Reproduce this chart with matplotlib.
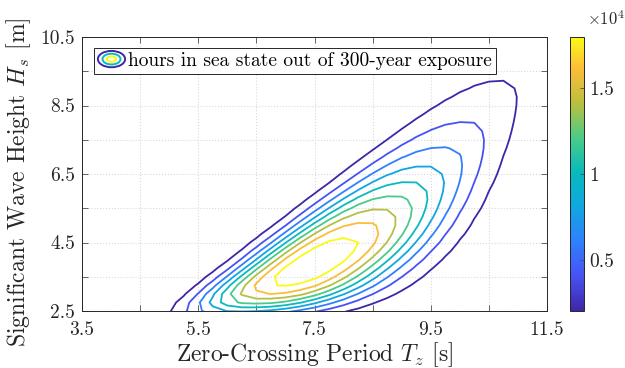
import numpy as np
import matplotlib
matplotlib.use("Agg")
import matplotlib.pyplot as plt
from matplotlib.colors import LinearSegmentedColormap, Normalize
from matplotlib.cm import ScalarMappable
from matplotlib.patches import Ellipse
from matplotlib.lines import Line2D
from matplotlib.legend_handler import HandlerBase

plt.rcParams['font.family'] = 'serif'
plt.rcParams['font.serif'] = ['cmr10']
plt.rcParams['mathtext.fontset'] = 'cm'
plt.rcParams['axes.formatter.use_mathtext'] = True

# contour levels (hours per sea-state bin) and colour limits
levels = [2000, 4000, 6000, 8000, 10000, 12000, 14000, 16000, 18000]
clim = (2000, 18000)

# joint sea-state model, parameters
peak_hours = 19500      # hours at the mode
hs_log_mode = 1.379     # ln(Hs) at the mode
hs_c_lo = 0.385         # spread of ln(Hs) below the mode
hs_p_lo = 2.96          # shape exponent below the mode
hs_sig_hi = 0.395       # spread of ln(Hs) above the mode
tz_a0 = 1.449           # ridge: ln(Tz) = a0 + a1*ln(Hs)
tz_a1 = 0.415
tz_c_lo = 0.138         # spread of ln(Tz) left of ridge at Hs = 2.5 m
tz_b_lo = 0.09          # its decay per metre of Hs
tz_c_hi = 0.1675        # spread of ln(Tz) right of ridge at Hs = 2.5 m
tz_b_hi = 0.163
tz_p = 2.4              # shape exponent across Tz

xticks = [3.5, 5.5, 7.5, 9.5, 11.5]
xminor = [4.5, 6.5, 8.5, 10.5]
yticks = [2.5, 4.5, 6.5, 8.5, 10.5]
yminor = [3.5, 5.5, 7.5, 9.5]
cbar_ticks = [5000, 10000, 15000]
cbar_labels = ['0.5', '1', '1.5']

# parula
parula_pts = [0, 8/63, 16/63, 24/63, 32/63, 40/63, 48/63, 56/63, 1]
parula_rgb = [(0.2422, 0.1504, 0.6603), (0.2810, 0.3228, 0.9579),
              (0.1802, 0.5057, 0.9910), (0.0641, 0.6558, 0.8776),
              (0.0287, 0.7320, 0.7387), (0.3045, 0.7942, 0.5233),
              (0.7406, 0.7502, 0.2393), (0.9954, 0.7453, 0.2271),
              (0.9769, 0.9839, 0.0805)]
parula = LinearSegmentedColormap.from_list('parula', list(zip(parula_pts, parula_rgb)))
norm = Normalize(*clim)

hs = np.arange(1.5, 10.76, 0.25)
tz = np.arange(3.5, 11.76, 0.25)
T, H = np.meshgrid(tz, hs)
d = np.log(H) - hs_log_mode
ridge = np.where(d < 0,
                 peak_hours * np.exp(-0.5 * (np.abs(d) / hs_c_lo) ** hs_p_lo),
                 peak_hours * np.exp(-0.5 * (d / hs_sig_hi) ** 2))
x = np.log(T) - (tz_a0 + tz_a1 * np.log(H))
c = np.where(x < 0, tz_c_lo * np.exp(-tz_b_lo * (H - 2.5)),
             tz_c_hi * np.exp(-tz_b_hi * (H - 2.5)))
Z = ridge * np.exp(-0.5 * (np.abs(x) / c) ** tz_p)

fig = plt.figure(figsize=(6.25, 3.68), dpi=100)
ax = fig.add_axes([82/625, 57/368, 465/625, 274/368])
ax.contour(T, H, Z, levels=levels, cmap=parula, norm=norm, linewidths=1.3)

ax.set_xlim(3.5, 11.5)
ax.set_ylim(2.5, 10.5)
ax.set_xticks(xticks)
ax.set_xticks(xminor, minor=True)
ax.set_yticks(yticks)
ax.set_yticks(yminor, minor=True)
ax.set_xticklabels([f'{v:g}' for v in xticks])
ax.set_yticklabels([f'{v:g}' for v in yticks])
ax.tick_params(which='both', direction='in', top=True, right=True, length=4,
               width=0.6, color='0.3', labelsize=14, labelcolor='0.15')
ax.tick_params(axis='x', pad=7)
ax.tick_params(axis='y', pad=5)
ax.grid(True, which='both', linestyle=':', linewidth=0.8, color='0.85')
ax.set_axisbelow(True)
for sp in ax.spines.values():
    sp.set_color('0.15')
    sp.set_linewidth(0.7)
ax.set_xlabel('Zero-Crossing Period $T_z$ [s]', fontsize=17, color='0.15', labelpad=1)
ax.set_ylabel('Significant Wave Height $H_s$ [m]', fontsize=17, color='0.15')
ax.yaxis.set_label_coords(-0.105, 0.47)


class RingHandler(HandlerBase):
    def create_artists(self, legend, orig, xd, yd, w, h, fs, trans):
        cx, cy = xd + w / 2, yd + h / 2
        out = []
        for f, col in zip([1.0, 0.66, 0.34], [parula(0.0), parula(0.5), parula(1.0)]):
            out.append(Ellipse((cx, cy), w * f, h * 1.2 * f, fill=False,
                               edgecolor=col, lw=1.4, transform=trans))
        return out


proxy = Line2D([], [])
leg = ax.legend([proxy], ['hours in sea state out of 300-year exposure'],
                handler_map={Line2D: RingHandler()}, loc='upper left',
                bbox_to_anchor=(12/465, 1 - 11/274), borderaxespad=0,
                fancybox=False, framealpha=1, edgecolor='0.15', fontsize=14,
                handlelength=1.4, handletextpad=0.15, borderpad=0.2)
leg.get_frame().set_linewidth(0.7)

cax = fig.add_axes([570/625, 57/368, 14/625, 274/368])
cb = fig.colorbar(ScalarMappable(norm=norm, cmap=parula), cax=cax)
cb.set_ticks(cbar_ticks)
cb.set_ticklabels(cbar_labels)
cb.ax.tick_params(direction='in', length=3, width=0.6, color='0.3',
                  labelsize=14, labelcolor='0.15')
cb.outline.set_edgecolor('0.15')
cb.outline.set_linewidth(0.7)
fig.text(587/625, 1 - 28/368, r'$\times10^4$', fontsize=12, color='0.15',
         ha='left', va='bottom')

fig.savefig('out.png', dpi=100)
